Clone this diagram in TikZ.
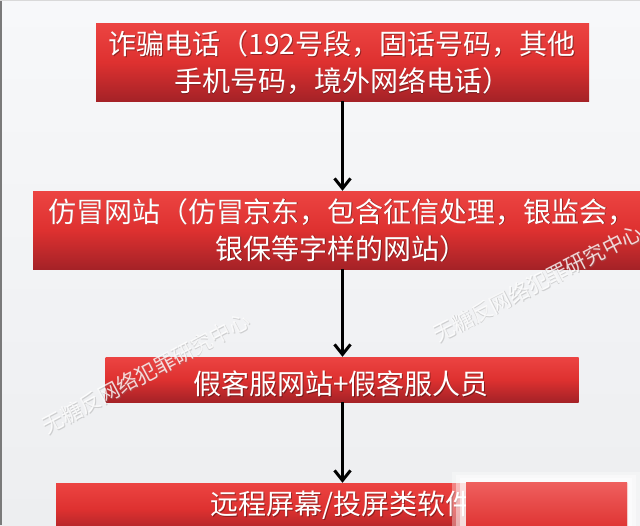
\documentclass[tikz,border=0pt]{standalone}
\usepackage{fontspec}
\newfontfamily\cjk{Noto Sans CJK SC}
\usetikzlibrary{arrows.meta}
\definecolor{bgtop}{HTML}{F7F8FA}
\definecolor{bgbot}{HTML}{EDEEF0}
\definecolor{redtop}{HTML}{EC4442}
\definecolor{redmid}{HTML}{DE3130}
\definecolor{redbot}{HTML}{A52227}
\definecolor{edgegray}{HTML}{7A7A7A}
\tikzset{
  box/.style={inner sep=0pt, draw=none, top color=redtop, bottom color=redbot, middle color=redmid},
  lbl/.style={text=white, font=\cjk\fontsize{28}{37}\selectfont, align=center, inner sep=0pt},
  shd/.style={text=black, opacity=0.35, font=\cjk\fontsize{28}{37}\selectfont, align=center, inner sep=0pt},
  arr/.style={line width=3.3pt, draw=black, -{Straight Barb[length=10pt,width=16pt,line width=3pt]}},
  wm/.style={text=white, opacity=0.8, font=\cjk\fontsize{21}{24}\selectfont, inner sep=0pt},
  wms/.style={text=gray, opacity=0.3, font=\cjk\fontsize{21}{24}\selectfont, inner sep=0pt}
}
\begin{document}
\begin{tikzpicture}[x=1pt,y=-1pt]
\useasboundingbox (0,0) rectangle (640,525);
\fill[top color=bgtop, bottom color=bgbot] (0,0) rectangle (640,525);
\draw[edgegray, line width=1.5pt] (0.75,0) -- (0.75,525);
\draw[gray!30, line width=0.8pt] (0,0.4) -- (640,0.4);

% boxes
\node[box, minimum width=493pt, minimum height=78pt] (b1) at (342.5,62) {};
\node[box, minimum width=619pt, minimum height=78pt] (b2) at (342.5,230) {};
\node[box, minimum width=473pt, minimum height=45pt] (b3) at (342,379.5) {};
\node[box, minimum width=572pt, minimum height=52pt] (b4) at (342,509) {};

% texts
\node[shd] (s1) at (342.8,63.8) {诈骗电话（192号段，固话号码，其他\\手机号码，境外网络电话）};
\node[lbl] (t1) at (342,63) {诈骗电话（192号段，固话号码，其他\\手机号码，境外网络电话）};
\node[shd] (s2) at (342.8,230.8) {仿冒网站（仿冒京东，包含征信处理，银监会，\\银保等字样的网站）};
\node[lbl] (t2) at (342,230) {仿冒网站（仿冒京东，包含征信处理，银监会，\\银保等字样的网站）};
\node[shd] (s3) at (341.8,384.8) {假客服网站+假客服人员};
\node[lbl] (t3) at (341,384) {假客服网站+假客服人员};
\node[shd] (s4) at (342.8,505.8) {远程屏幕/投屏类软件};
\node[lbl] (t4) at (342,505) {远程屏幕/投屏类软件};

% arrows
\draw[arr] (b1.south) -- (b1.south |- b2.north);
\draw[arr] (b2.south) -- (b2.south |- b3.north);
\draw[arr] (b3.south -| b2.south) -- (b2.south |- b4.north);

% blurred patch
\fill[white, opacity=0.35] (452,472) rectangle (640,530);
\fill[white, opacity=0.45] (456,475) rectangle (636,530);
\fill[white, opacity=0.55] (460,478) rectangle (632,530);
\fill[top color=redtop!85!white, bottom color=redmid] (466,482) rectangle (627,530);

% watermarks
\node[wms, rotate=28] (w1s) at (146.8,373.8) {无糖反网络犯罪研究中心};
\node[wm, rotate=28] (w1) at (146,373) {无糖反网络犯罪研究中心};
\node[wms, rotate=27] (w2s) at (538.8,283.8) {无糖反网络犯罪研究中心};
\node[wm, rotate=27] (w2) at (538,283) {无糖反网络犯罪研究中心};
\end{tikzpicture}
\end{document}
